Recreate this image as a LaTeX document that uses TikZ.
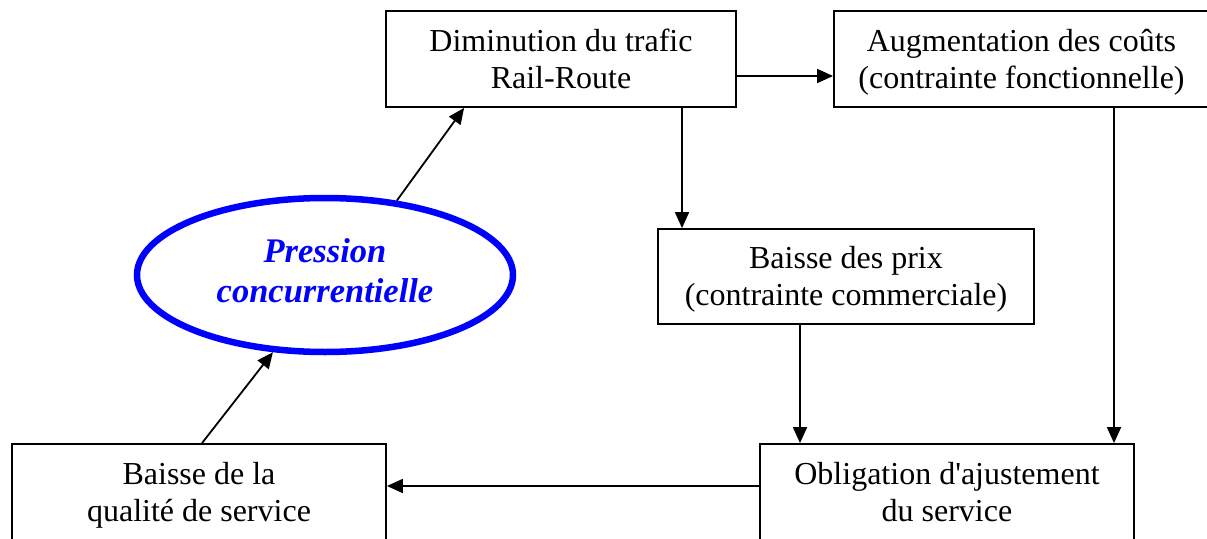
\documentclass[tikz,border=0pt]{standalone}
\usepackage{fontspec}
\setmainfont{Liberation Serif}[Ligatures=TeXOff]
\usetikzlibrary{shapes.geometric,arrows.meta,calc}
\newcommand\lnstrut{\rule[-8pt]{0pt}{37pt}}
\newcommand\elstrut{\rule[-13pt]{0pt}{40pt}}
\begin{document}
\begin{tikzpicture}[x=1pt,y=-1pt,
  box/.style={draw=black,line width=1.8pt,fill=white,align=center,inner sep=0pt,
    font=\fontsize{32}{37}\selectfont},
  arr/.style={draw=black,line width=1.8pt,-{Triangle[length=16pt,width=14pt]}},
  ell/.style={ellipse,draw=blue,line width=6.5pt,align=center,inner sep=0pt,
    text=blue,font=\fontsize{34.5}{40}\selectfont\bfseries\itshape}]
\useasboundingbox[fill=white] (0,0) rectangle (1207,538);
\node[box,minimum width=350pt,minimum height=96pt] (dim) at (561,59)
  {\lnstrut Diminution du trafic\\\lnstrut Rail-Route};
\node[box,minimum width=375pt,minimum height=96pt] (aug) at (1021.5,59)
  {\lnstrut Augmentation des coûts\\\lnstrut (contrainte fonctionnelle)};
\node[box,minimum width=376pt,minimum height=95pt] (prix) at (846,276.5)
  {\lnstrut Baisse des prix\\\lnstrut (contrainte commerciale)};
\node[box,minimum width=374pt,minimum height=97pt] (obl) at (947,492.5)
  {\lnstrut Obligation d'ajustement\\\lnstrut du service};
\node[box,minimum width=374pt,minimum height=97pt] (qual) at (199,492.5)
  {\lnstrut Baisse de la\\\lnstrut qualité de service};
\node[ell,minimum width=376pt,minimum height=154pt] (ell) at (325,275)
  {\elstrut Pression\\\elstrut concurrentielle};
\draw[arr] (ell.46) -- ([xshift=79pt]dim.south west);
\draw[arr] ([xshift=3pt]qual.north) -- (ell.236);
\draw[arr] ([yshift=-17pt]dim.east) -- ([yshift=-17pt]aug.west);
\draw[arr] ([xshift=121pt]dim.south) -- ([xshift=121pt]dim.south |- prix.north);
\draw[arr] ([xshift=92.5pt]aug.south) -- ([xshift=92.5pt]aug.south |- obl.north);
\draw[arr] ([xshift=-46pt]prix.south) -- ([xshift=-46pt]prix.south |- obl.north);
\draw[arr] ([yshift=6.5pt]obl.west) -- ([yshift=6.5pt]obl.west -| qual.east);
\end{tikzpicture}
\end{document}
